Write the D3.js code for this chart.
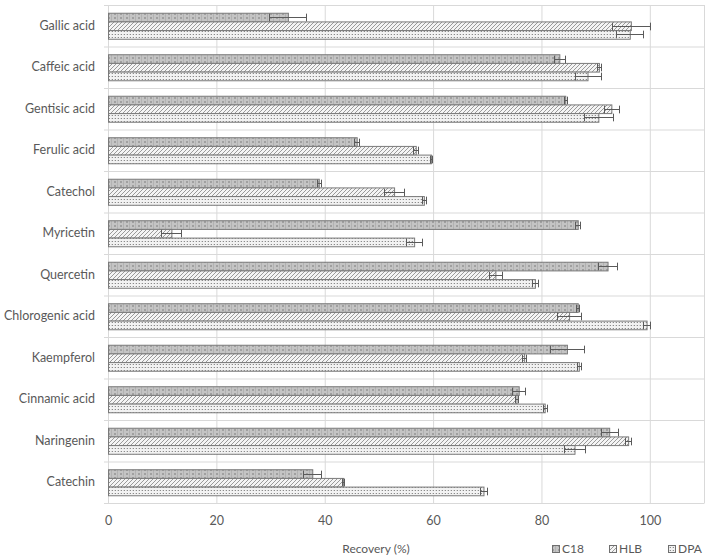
<!DOCTYPE html>
<html><head><meta charset="utf-8">
<script src="https://cdn.jsdelivr.net/npm/d3@7/dist/d3.min.js"></script>
<style>body{margin:0;background:#fff}svg{display:block}text{font-family:Lato,"Open Sans",sans-serif;fill:#595959}</style>
</head><body><svg id="c" width="714" height="558"></svg>
<script>
const categories = ["Gallic acid","Caffeic acid","Gentisic acid","Ferulic acid","Catechol","Myricetin","Quercetin","Chlorogenic acid","Kaempferol","Cinnamic acid","Naringenin","Catechin"];
const series = ["C18","HLB","DPA"];
const c18 = [33.2,83.3,84.4,45.9,38.9,86.7,92.2,86.7,84.7,75.8,92.5,37.7];
const c18Err = [3.4,1.0,0.3,0.5,0.4,0.5,1.75,0.3,3.1,1.2,1.6,1.7];
const hlb = [96.5,90.6,92.9,56.8,52.8,11.7,71.5,85.1,76.8,75.4,96.0,43.4];
const hlbErr = [3.5,0.3,1.4,0.5,1.85,1.85,1.2,2.25,0.4,0.3,0.6,0.2];
const dpa = [96.3,88.5,90.5,59.6,58.3,56.5,78.8,99.4,86.9,80.6,86.1,69.3];
const dpaErr = [2.5,2.4,2.7,0.2,0.4,1.5,0.5,0.7,0.4,0.4,1.9,0.7];
const xTicks = [0,20,40,60,80,100];
const xMax = 110;
const xTitle = "Recovery (%)";

const values = {C18:c18, HLB:hlb, DPA:dpa};
const errs = {C18:c18Err, HLB:hlbErr, DPA:dpaErr};
const data = [];
categories.forEach((c,i)=>series.forEach(s=>data.push({cat:c,s,v:values[s][i],e:errs[s][i]})));

const svg = d3.select("#c");
const L=108, R=704, T=5, B=503;
const x = d3.scaleLinear().domain([0,xMax]).range([L,R]);
const y0 = d3.scaleBand().domain(categories).range([T,B]).paddingInner(0.373).paddingOuter(0.1865);
const y1 = d3.scaleBand().domain(series).range([0,y0.bandwidth()]);

// patterns
const defs = svg.append("defs");
const p1 = defs.append("pattern").attr("id","pC18").attr("patternUnits","userSpaceOnUse").attr("width",6).attr("height",4);
p1.append("rect").attr("width",6).attr("height",4).attr("fill","#c4c4c4");
p1.append("rect").attr("x",0).attr("y",1).attr("width",2).attr("height",2).attr("fill","#a0a0a0");
p1.append("rect").attr("x",3).attr("y",0).attr("width",1).attr("height",4).attr("fill","#b2b2b2");
const p2 = defs.append("pattern").attr("id","pHLB").attr("patternUnits","userSpaceOnUse").attr("width",4).attr("height",4);
p2.append("rect").attr("width",4).attr("height",4).attr("fill","#f4f4f4");
p2.append("path").attr("d","M-1,5 L5,-1 M-1,1 L1,-1 M3,5 L5,3").attr("stroke","#9a9a9a").attr("stroke-width",1);
const p3 = defs.append("pattern").attr("id","pDPA").attr("patternUnits","userSpaceOnUse").attr("width",3).attr("height",3);
p3.append("rect").attr("width",3).attr("height",3).attr("fill","#f2f2f2");
p3.append("rect").attr("x",1).attr("y",1).attr("width",1).attr("height",1).attr("fill","#8a8a8a");
p3.append("rect").attr("x",0).attr("y",1).attr("width",1).attr("height",1).attr("fill","#d4d4d4");
const fillOf = s => `url(#p${s})`;

// vertical gridlines
svg.append("g").selectAll("line").data(d3.range(0,xMax+1,10).filter(v=>v%20===0||v===xMax)).join("line")
  .attr("x1",d=>x(d)+0.5).attr("x2",d=>x(d)+0.5).attr("y1",T).attr("y2",B)
  .attr("stroke","#d9d9d9").attr("stroke-width",1);
// horizontal category gridlines
const step = y0.step();
svg.append("g").selectAll("line").data(d3.range(0,categories.length+1)).join("line")
  .attr("x1",L-4).attr("x2",R).attr("y1",d=>T+d*step+0.5).attr("y2",d=>T+d*step+0.5)
  .attr("stroke","#d9d9d9").attr("stroke-width",1);
svg.append("line").attr("x1",L+0.5).attr("x2",L+0.5).attr("y1",T).attr("y2",B).attr("stroke","#d9d9d9");

// bars
const g = svg.append("g");
g.selectAll("rect").data(data).join("rect")
  .attr("x",x(0)+0.5).attr("y",d=>y0(d.cat)+y1(d.s)+0.5)
  .attr("width",d=>x(d.v)-x(0)).attr("height",y1.bandwidth())
  .attr("fill",d=>fillOf(d.s)).attr("stroke","#7a7a7a").attr("stroke-width",1);

// error bars
const eb = svg.append("g").attr("stroke","#5a5a5a").attr("stroke-width",1).attr("fill","none");
data.forEach(d=>{
  const cy = Math.round(y0(d.cat)+y1(d.s)+y1.bandwidth()/2)+0.5;
  const h = y1.bandwidth()/2 - 0.5;
  const xa = Math.round(x(d.v-d.e))+0.5, xb = Math.round(x(d.v+d.e))+0.5;
  eb.append("line").attr("x1",xa).attr("x2",xb).attr("y1",cy).attr("y2",cy);
  eb.append("line").attr("x1",xa).attr("x2",xa).attr("y1",cy-h).attr("y2",cy+h);
  eb.append("line").attr("x1",xb).attr("x2",xb).attr("y1",cy-h).attr("y2",cy+h);
});

// x axis
const xa = svg.append("g").attr("transform",`translate(0,${B})`)
  .call(d3.axisBottom(x).tickValues(xTicks).tickSize(0).tickPadding(13));
xa.select(".domain").attr("stroke","#d9d9d9");
xa.selectAll("text").attr("font-size",12.5).style("fill","#595959").style("font-family","Lato,sans-serif");

// y axis labels
const ya = svg.append("g").attr("transform",`translate(${L},0)`)
  .call(d3.axisLeft(y0).tickSize(0).tickPadding(13));
ya.select(".domain").remove();
ya.selectAll("text").attr("font-size",12.5).style("fill","#595959").style("font-family","Lato,sans-serif");

// title
svg.append("text").attr("x",376).attr("y",553).attr("text-anchor","middle").attr("font-size",12).text(xTitle);

// legend
const legX = [552,609,668];
const lg = svg.append("g");
series.forEach((s,i)=>{
  lg.append("rect").attr("x",legX[i]+0.5).attr("y",545.5).attr("width",7).attr("height",7)
    .attr("fill",fillOf(s)).attr("stroke","#6f6f6f");
  lg.append("text").attr("x",legX[i]+10).attr("y",553).attr("font-size",12).text(s);
});
</script></body></html>
